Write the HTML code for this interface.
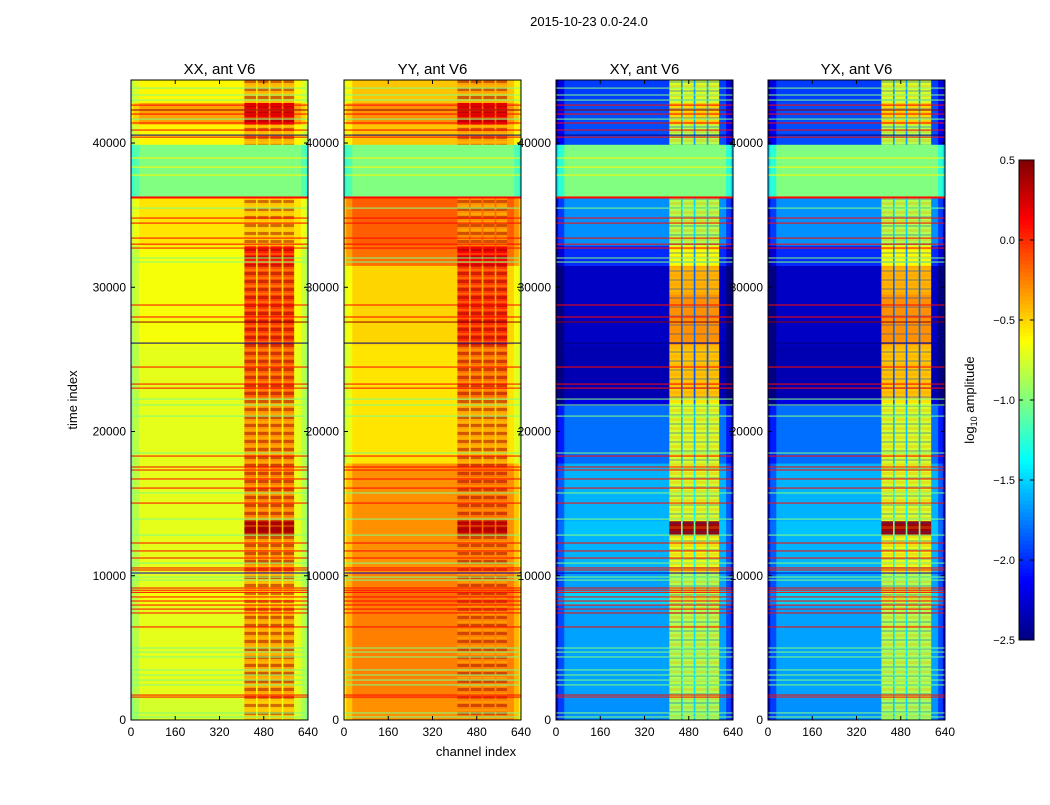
<!DOCTYPE html>
<html><head><meta charset="utf-8"><style>
body{margin:0;background:#fff;}
svg text{font-family:"Liberation Sans",sans-serif;fill:#000;}
</style></head><body>
<svg id="fig" width="1050" height="800" xmlns="http://www.w3.org/2000/svg">
<defs>
<pattern id="stripes" patternUnits="userSpaceOnUse" width="10" height="8">
<rect width="10" height="3" y="0" fill="rgba(150,0,0,0.45)"/>
<rect width="10" height="2" y="5" fill="rgba(255,230,0,0.25)"/>
</pattern>
<pattern id="speck" patternUnits="userSpaceOnUse" width="10" height="9">
<rect width="10" height="2" y="0" fill="rgba(0,60,220,0.25)"/>
<rect width="10" height="3" y="4" fill="rgba(255,140,0,0.25)"/>
</pattern>
</defs>
<rect width="1050" height="800" fill="#fff"/>
<text x="589" y="26" font-size="13" text-anchor="middle">2015-10-23 0.0-24.0</text>
<text x="77" y="400" font-size="13" text-anchor="middle" transform="rotate(-90 77 400)">time index</text>
<text x="476" y="756" font-size="13" text-anchor="middle">channel index</text>
<text x="974" y="400" font-size="13" text-anchor="middle" transform="rotate(-90 974 400)">log<tspan font-size="9" dy="3">10</tspan><tspan dy="-3"> amplitude</tspan></text>
<g id="panels"></g>
<g id="cbar"></g>
</svg>
<script>
const titles=["XX, ant V6","YY, ant V6","XY, ant V6","YX, ant V6"];
const timeEdges=[0,1500,8000,9000,10200,12800,13800,17800,21800,22300,26000,29500,31500,32900,36300,39900,41300,42800,44370];
const baseXX=[-0.75,-0.7,-0.65,-0.7,-0.7,-0.7,-0.7,-0.7,-0.7,-0.7,-0.65,-0.65,-0.65,-0.55,-1.0,-0.6,-0.35,-0.6];
const rfiXX=[-0.45,-0.35,-0.5,-0.4,-0.3,0.35,-0.25,-0.3,-0.35,-0.15,-0.05,-0.1,0.05,-0.45,-1.0,-0.4,0.2,-0.4];
const baseYY=[-0.3,-0.25,-0.2,-0.25,-0.3,-0.3,-0.3,-0.55,-0.55,-0.55,-0.5,-0.5,-0.2,-0.15,-1.0,-0.45,-0.3,-0.45];
const rfiYY=[-0.25,-0.25,-0.2,-0.25,-0.25,0.3,-0.2,-0.35,-0.35,-0.2,0.0,-0.05,0.15,-0.3,-1.0,-0.35,0.2,-0.35];
const baseXY=[-1.7,-1.65,-1.5,-1.65,-1.6,-1.55,-1.6,-1.8,-2.2,-2.35,-2.3,-2.3,-2.0,-1.7,-1.0,-1.9,-1.9,-1.95];
const rfiXY=[-0.9,-0.85,-0.8,-0.85,-0.7,0.4,-0.75,-0.75,-0.65,-0.45,-0.3,-0.4,-0.65,-0.85,-1.0,-0.85,-0.5,-0.75];
const baseYX=[-1.7,-1.65,-1.5,-1.65,-1.6,-1.55,-1.6,-1.8,-2.2,-2.35,-2.3,-2.3,-2.0,-1.7,-1.0,-1.9,-1.9,-1.95];
const rfiYX=[-0.9,-0.85,-0.8,-0.85,-0.7,0.4,-0.75,-0.75,-0.65,-0.45,-0.3,-0.4,-0.65,-0.85,-1.0,-0.85,-0.5,-0.75];
const edgeDelta=[-0.25,-0.3,-0.5,-0.5];
const chanEdges=[0,8,30,410,452,458,498,504,545,551,590,615,632,640];
const chanWeight=[-1,-0.5,0,1,0.25,1,0.25,1,0.25,1,0,-0.5,-1];
const lineTimes=[43810,43330,42980,42630,42290,42010,41660,41390,40900,40550,40410,38960,38330,37780,36260,36190,35490,34800,34450,33410,32990,32720,32030,31750,28770,27940,27590,26130,24470,23290,23010,22250,21840,21070,18510,18300,17540,17330,16710,16080,15740,15040,13930,12820,12270,11720,11230,10880,10540,10400,10190,9910,9700,9150,9000,8850,8530,8250,7970,7690,7420,6450,4990,4710,4370,3470,3120,2770,2430,1730,1590,490,210];
const lineVals=[-1,-1,-1,0.1,0.45,0.1,-1,0.1,0.1,-2.6,0.1,-0.6,-0.6,-0.6,0.1,0.1,-1,0.1,0.1,0.1,0.1,0.1,-1,-1,0.1,0.1,0.45,-2.6,0.1,0.1,0.1,-1,-1,-1,-1,0.1,0.1,0.1,0.1,0.1,-1,0.1,-1,-1,0.1,0.1,0.1,-1,0.1,0.1,-2.3,-1,-1,0.1,0.1,0.1,0.1,0.1,0.1,0.1,0.1,0.1,-1,-1,-1,-1,-1,-1,-1,0.1,0.1,-1,-1];
const yTicks=[0,10000,20000,30000,40000];
const xTicks=[0,160,320,480,640];
const cbTicks=[-2.5,-2.0,-1.5,-1.0,-0.5,0.0,0.5];
const bases=[baseXX,baseYY,baseXY,baseYX], rfis=[rfiXX,rfiYY,rfiXY,rfiYX];
const panelLeft=[131,344,556,768], PW=177, PT=80, PB=720, TMAX=44370, CMAX=640, VMIN=-2.5, VMAX=0.5;
const NS="http://www.w3.org/2000/svg";
function jet(v){let x=(v-VMIN)/(VMAX-VMIN);x=Math.max(0,Math.min(1,x));
 const c=t=>Math.max(0,Math.min(1,t));
 const r=c(1.5-Math.abs(4*x-3)),g=c(1.5-Math.abs(4*x-2)),b=c(1.5-Math.abs(4*x-1));
 return `rgb(${Math.round(r*255)},${Math.round(g*255)},${Math.round(b*255)})`;}
function mk(tag,attrs,parent){const e=document.createElementNS(NS,tag);for(const k in attrs)e.setAttribute(k,attrs[k]);parent.appendChild(e);return e;}
const ty=t=>PB-(t/TMAX)*(PB-PT);
const panels=document.getElementById('panels');
for(let p=0;p<4;p++){
 const L=panelLeft[p], cx=c=>L+c/CMAX*PW;
 const g=mk('g',{},panels);
 
 
 for(let s=0;s<timeEdges.length-1;s++){
  for(let k=0;k<chanEdges.length-1;k++){
   const w=chanWeight[k];
   const v=w<0?bases[p][s]+edgeDelta[p]*(-w):bases[p][s]+(rfis[p][s]-bases[p][s])*w;
   const r=mk('rect',{x:cx(chanEdges[k]),y:ty(timeEdges[s+1]),width:cx(chanEdges[k+1])-cx(chanEdges[k])+0.3,height:ty(timeEdges[s])-ty(timeEdges[s+1])+0.3,fill:jet(v)},g);
   
   
   if(w===1 && s!==14){
    const o=mk('rect',{x:cx(chanEdges[k]),y:ty(timeEdges[s+1]),width:cx(chanEdges[k+1])-cx(chanEdges[k]),height:ty(timeEdges[s])-ty(timeEdges[s+1]),fill:p<2?'url(#stripes)':'url(#speck)'},g);
    
    
   }
  }
 }
 for(let i=0;i<lineTimes.length;i++){
  const r=mk('rect',{x:L,y:ty(lineTimes[i]+35),width:PW,height:ty(lineTimes[i]-35)-ty(lineTimes[i]+35),fill:jet(lineVals[i])},g);
  
  
 }
 mk('rect',{x:L,y:PT,width:PW,height:PB-PT,fill:'none',stroke:'#000','stroke-width':1},g);
 const t=mk('text',{x:L+PW/2,y:74,'font-size':15,'text-anchor':'middle'},g);
 t.textContent=titles[p];
 
 
 for(const v of yTicks){const y=ty(v);
  mk('line',{x1:L,x2:L+4,y1:y,y2:y,stroke:'#000'},g);mk('line',{x1:L+PW-4,x2:L+PW,y1:y,y2:y,stroke:'#000'},g);
  const tl=mk('text',{x:L-5,y:y+4,'font-size':12,'text-anchor':'end'},g);tl.textContent=v;
  
  }
 for(const v of xTicks){const x=cx(v);
  mk('line',{x1:x,x2:x,y1:PB,y2:PB-4,stroke:'#000'},g);mk('line',{x1:x,x2:x,y1:PT,y2:PT+4,stroke:'#000'},g);
  const tl=mk('text',{x:x,y:PB+16,'font-size':12,'text-anchor':'middle'},g);tl.textContent=v;
  
  }
}
const cb=document.getElementById('cbar');


const CBX=1019,CBW=15,CBT=160,CBB=640;
const cby=v=>CBB-(v-VMIN)/(VMAX-VMIN)*(CBB-CBT);
for(let i=0;i<120;i++){const v0=VMIN+(VMAX-VMIN)*i/120,v1=VMIN+(VMAX-VMIN)*(i+1)/120;
 mk('rect',{x:CBX,y:cby(v1),width:CBW,height:cby(v0)-cby(v1)+0.5,fill:jet((v0+v1)/2)},cb);}
mk('rect',{x:CBX,y:CBT,width:CBW,height:CBB-CBT,fill:'none',stroke:'#000'},cb);
for(const v of cbTicks){const y=cby(v);
 mk('line',{x1:CBX+CBW-4,x2:CBX+CBW,y1:y,y2:y,stroke:'#000'},cb);
 mk('line',{x1:CBX,x2:CBX+4,y1:y,y2:y,stroke:'#000'},cb);
 const tl=mk('text',{x:CBX-4,y:y+4,'font-size':11,'text-anchor':'end'},cb);tl.textContent=(v<0?'\u2212':'')+Math.abs(v).toFixed(1);
 
 }
</script>
</body></html>
